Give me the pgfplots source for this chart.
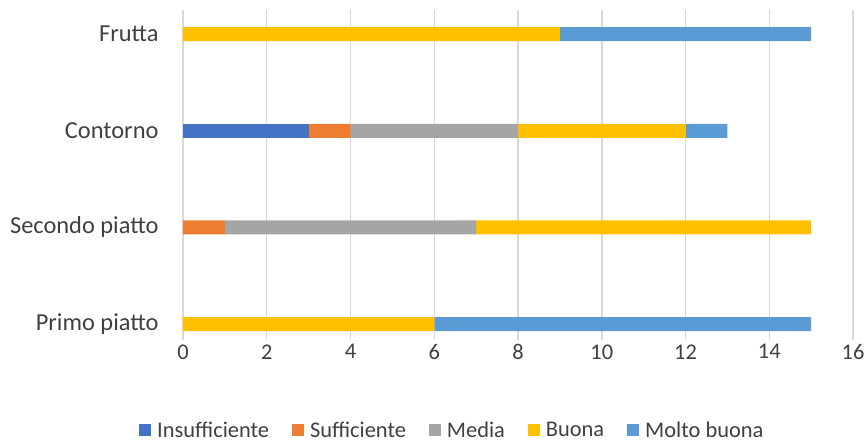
\documentclass[border=0pt]{standalone}
\usepackage{fontspec}
\setmainfont{Carlito}
\usepackage{pgfplots}
\pgfplotsset{compat=1.18}
\definecolor{cIns}{HTML}{4472C4}
\definecolor{cSuf}{HTML}{ED7D31}
\definecolor{cMed}{HTML}{A5A5A5}
\definecolor{cBuo}{HTML}{FFC000}
\definecolor{cMol}{HTML}{5B9BD5}
\definecolor{gridc}{HTML}{D9D9D9}
\definecolor{txt}{HTML}{404040}
\begin{document}
\begin{tikzpicture}
\useasboundingbox (-183bp,-102bp) rectangle (681bp,340bp);
\begin{axis}[
  at={(0,0)}, anchor=south west,
  scale only axis,
  width=670bp, height=330bp,
  xbar stacked,
  bar width=14bp,
  xmin=0, xmax=16,
  ymin=-0.165, ymax=3.25,
  xtick={0,2,...,16},
  ytick={0,1,2,3},
  yticklabels={Primo piatto,Secondo piatto,Contorno,Frutta},
  xmajorgrids,
  grid style={gridc, line width=1.5bp},
  axis line style={draw=none},
  major tick length=0pt,
  tick label style={font=\fontsize{22.5}{26}\selectfont, text=txt},
  yticklabel style={font=\fontsize{24.5}{29}\selectfont, text=txt},
  /pgf/number format/assume math mode=true,
  xticklabel style={yshift=-1bp},
  yticklabel style={xshift=-21bp},
  legend style={at={(0.402,-0.273)}, anchor=center, draw=none,
    font=\fontsize{22.5}{26}\selectfont, text=txt,
    /tikz/every odd column/.append style={column sep=0bp},
    /tikz/every even column/.append style={column sep=21bp}},
  legend columns=-1,
  legend image code/.code={\fill[#1] (0bp,-6bp) rectangle (12bp,6bp); \path (0bp,0bp) -- (16bp,0bp);},
]
\addplot[fill=cIns, draw=none] coordinates {(0,0) (0,1) (3,2) (0,3)};
\addplot[fill=cSuf, draw=none] coordinates {(0,0) (1,1) (1,2) (0,3)};
\addplot[fill=cMed, draw=none] coordinates {(0,0) (6,1) (4,2) (0,3)};
\addplot[fill=cBuo, draw=none] coordinates {(6,0) (8,1) (4,2) (9,3)};
\addplot[fill=cMol, draw=none] coordinates {(9,0) (0,1) (1,2) (6,3)};
\legend{Insufficiente,Sufficiente,Media,Buona,Molto buona}
\end{axis}
\end{tikzpicture}
\end{document}
